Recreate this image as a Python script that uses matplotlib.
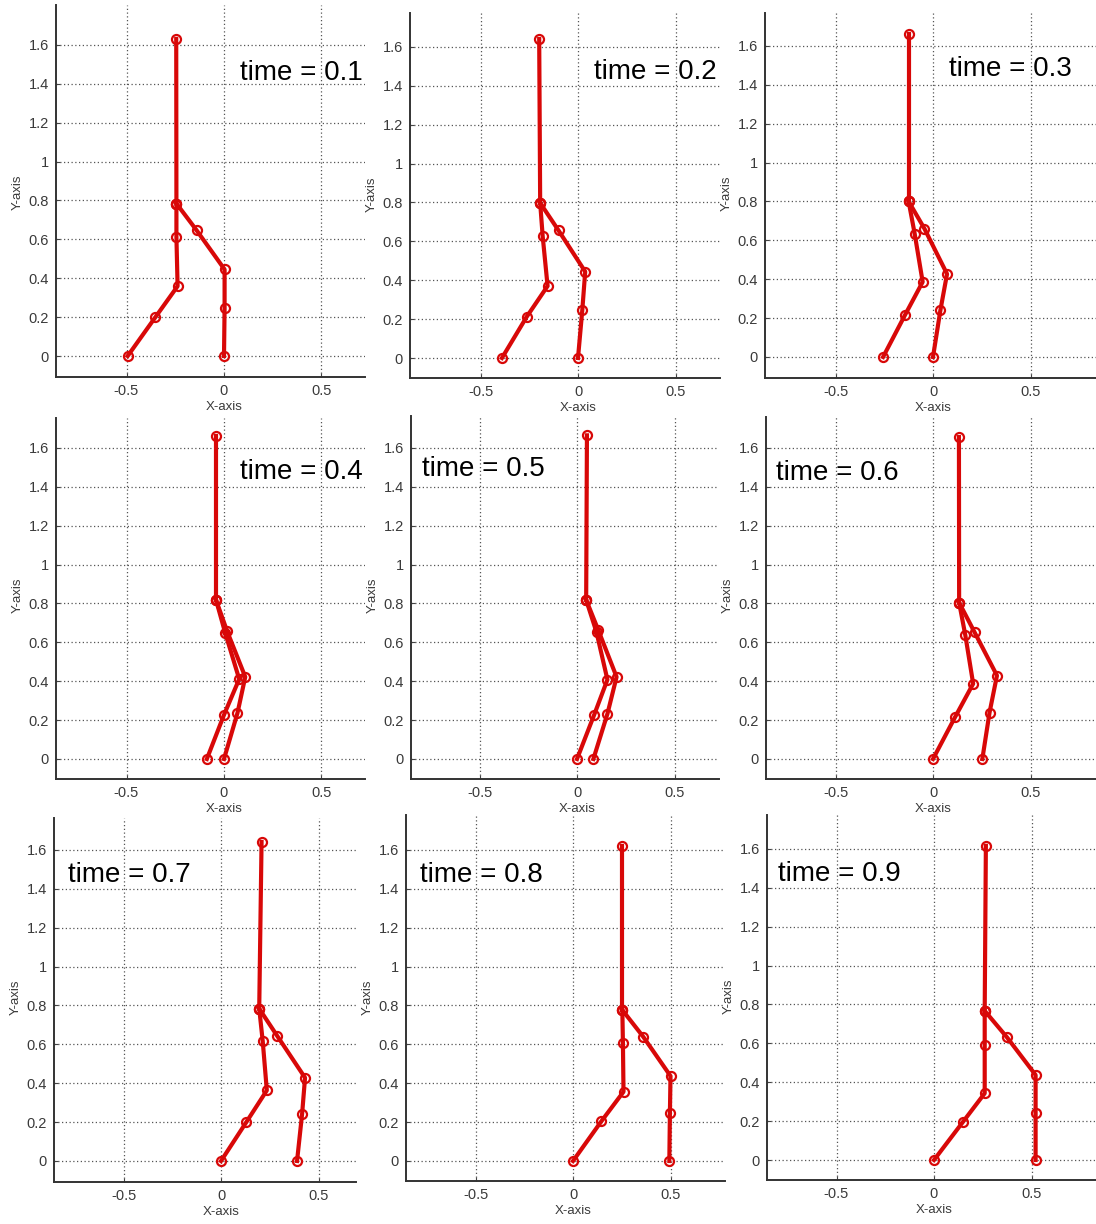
import matplotlib
matplotlib.use("Agg")
import matplotlib.pyplot as plt

# ---------- Données ----------

times = [0.1, 0.2, 0.3, 0.4, 0.5, 0.6, 0.7, 0.8, 0.9]

# tête et hanche
head_x = [-0.245, -0.199, -0.125, -0.041, 0.051, 0.133, 0.208, 0.253, 0.266]
head_y = [1.63, 1.64, 1.66, 1.66, 1.664, 1.655, 1.64, 1.62, 1.615]
hip_x = [-0.244, -0.194, -0.125, -0.041, 0.047, 0.134, 0.196, 0.253, 0.26]
hip_y = [0.784, 0.797, 0.80, 0.818, 0.818, 0.804, 0.783, 0.776, 0.767]

# jambe A : milieu cuisse, genou, milieu tibia, pied
legA_x = [[-0.244, -0.238, -0.353, -0.494],
          [-0.181, -0.156, -0.263, -0.39],
          [-0.094, -0.053, -0.144, -0.256],
          [0.006, 0.078, 0.0, -0.088],
          [0.10, 0.156, 0.088, 0.0],
          [0.166, 0.206, 0.113, 0.0],
          [0.214, 0.235, 0.13, 0.0],
          [0.256, 0.259, 0.146, 0.0],
          [0.26, 0.26, 0.147, 0.0]]
legA_y = [[0.612, 0.359, 0.198, 0.0],
          [0.625, 0.37, 0.212, 0.0],
          [0.634, 0.386, 0.215, 0.0],
          [0.649, 0.411, 0.227, 0.0],
          [0.652, 0.408, 0.227, 0.0],
          [0.635, 0.387, 0.215, 0.0],
          [0.616, 0.363, 0.20, 0.0],
          [0.608, 0.356, 0.205, 0.0],
          [0.592, 0.343, 0.194, 0.0]]

# jambe B
legB_x = [[-0.141, 0.003, 0.003, 0.0],
          [-0.10, 0.037, 0.022, 0.0],
          [-0.044, 0.072, 0.038, 0.0],
          [0.016, 0.109, 0.069, 0.0],
          [0.109, 0.203, 0.156, 0.084],
          [0.213, 0.328, 0.29, 0.253],
          [0.289, 0.431, 0.416, 0.39],
          [0.36, 0.50, 0.497, 0.494],
          [0.374, 0.521, 0.521, 0.521]]
legB_y = [[0.647, 0.445, 0.245, 0.0],
          [0.656, 0.444, 0.246, 0.0],
          [0.66, 0.427, 0.241, 0.0],
          [0.657, 0.422, 0.236, 0.0],
          [0.663, 0.422, 0.232, 0.0],
          [0.652, 0.429, 0.239, 0.0],
          [0.642, 0.428, 0.243, 0.0],
          [0.639, 0.437, 0.248, 0.0],
          [0.631, 0.437, 0.244, 0.0]]

x_ticks = [-0.5, 0, 0.5]
y_ticks = [0, 0.2, 0.4, 0.6, 0.8, 1, 1.2, 1.4, 1.6]

# ---------- Mise en page (pixels de l'image) ----------

W, H = 1096, 1224
SX, SY = 195.0, 194.5   # pixels par unité
# (gauche, haut, droite, bas) de chaque panneau
boxes = [(56, 5, 365, 377), (410, 13, 720, 378), (765, 13, 1096, 378),
         (56, 418, 365, 779), (411, 416, 719, 779), (766, 417, 1096, 779),
         (54, 818, 356, 1182), (406, 815, 725, 1181), (767, 815, 1096, 1180)]
# pixel de l'origine (x=0, y=0)
origins = [(224, 356), (578, 358), (933, 357),
           (224, 759), (577, 759), (933, 759),
           (221, 1161), (573, 1161), (934, 1160)]
# position du texte "time = ..."
text_px = [(240, 80), (594, 79), (949, 76),
           (240, 479), (422, 476), (776, 480),
           (68, 882), (420, 882), (778, 881)]

plt.rcParams['font.family'] = ['Liberation Sans', 'DejaVu Sans']

RED = '#d80808'
fig = plt.figure(figsize=(W / 100, H / 100), dpi=100)
fig.patch.set_facecolor('white')

for i in range(9):
    l, t, r, b = boxes[i]
    x0, y0 = origins[i]
    ax = fig.add_axes([l / W, 1 - b / H, (r - l) / W, (b - t) / H])
    ax.set_xlim((l - x0) / SX, (r - x0) / SX)
    ax.set_ylim((y0 - b) / SY, (y0 - t) / SY)

    ax.spines['top'].set_visible(False)
    ax.spines['right'].set_visible(False)
    for s in ['left', 'bottom']:
        ax.spines[s].set_color('#333333')
        ax.spines[s].set_linewidth(1.4)

    ax.set_xticks(x_ticks)
    ax.set_xticklabels([f"{v:g}" for v in x_ticks])
    ax.set_yticks(y_ticks)
    ax.set_yticklabels([f"{v:g}" for v in y_ticks])
    ax.tick_params(direction='in', length=3, width=0.8, colors='#444444',
                   labelsize=10.5, labelcolor='#3a3a3a', pad=5)
    ax.grid(True, linestyle=(0, (1, 2)), color='#555555', linewidth=0.9)
    ax.set_axisbelow(True)

    # squelette : tronc puis les deux jambes
    style = dict(color=RED, lw=3.0, marker='o', ms=6.5, mfc='none',
                 mec=RED, mew=1.6, clip_on=False)
    ax.plot([head_x[i], hip_x[i]], [head_y[i], hip_y[i]], **style)
    ax.plot([hip_x[i]] + legA_x[i], [hip_y[i]] + legA_y[i], **style)
    ax.plot([hip_x[i]] + legB_x[i], [hip_y[i]] + legB_y[i], **style)

    # étiquettes des axes
    fig.text(x0 / W, 1 - (b + 30) / H, 'X-axis', ha='center', va='center',
             fontsize=9.5, color='#3a3a3a')
    fig.text((l - 38) / W, 1 - (y0 - 0.84 * SY) / H, 'Y-axis', ha='center',
             va='center', rotation=90, fontsize=9.5, color='#3a3a3a')

    tx, ty = text_px[i]
    fig.text(tx / W, 1 - ty / H, f"time = {times[i]:g}", ha='left',
             va='baseline', fontsize=20, color='black')

fig.savefig('out.png', dpi=100, facecolor='white')
